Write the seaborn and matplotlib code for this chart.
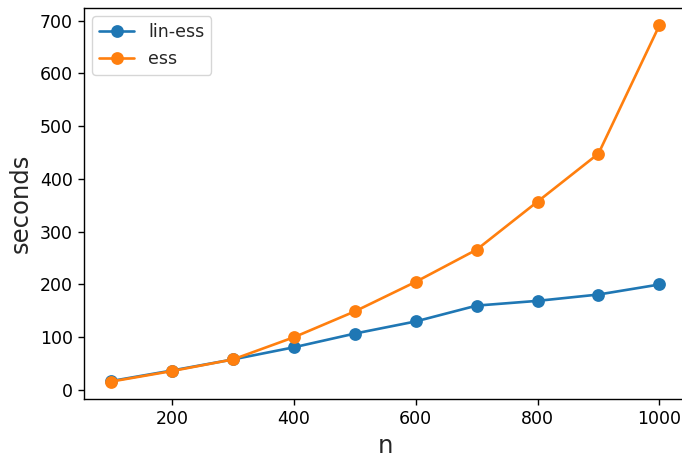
import matplotlib
matplotlib.use("Agg")
import matplotlib.pyplot as plt
import seaborn as sns
import pandas as pd

n_values = [100, 200, 300, 400, 500, 600, 700, 800, 900, 1000]
lin_ess = [17, 37, 58, 81, 107, 130, 160, 169, 181, 200]
ess = [16, 36, 58, 100, 149, 205, 266, 357, 448, 691]
series_names = ["lin-ess", "ess"]
colors = ["#1f77b4", "#ff7f0e"]

sns.set_style("ticks")
plt.rcParams["font.family"] = ["DejaVu Sans"]
plt.rcParams["axes.linewidth"] = 1.0
plt.rcParams["xtick.major.width"] = 1.0
plt.rcParams["ytick.major.width"] = 1.0
plt.rcParams["xtick.major.size"] = 4.4
plt.rcParams["ytick.major.size"] = 4.4
plt.rcParams["axes.edgecolor"] = "black"
plt.rcParams["xtick.color"] = "black"
plt.rcParams["ytick.color"] = "black"

df = pd.DataFrame({"n": n_values, "lin-ess": lin_ess, "ess": ess})

fig = plt.figure(figsize=(6.82, 4.59), dpi=100)
ax = fig.add_axes([83.7 / 682, 1 - 399.4 / 459, (688.0 - 83.7) / 682, (399.4 - 7.6) / 459])

for name, c in zip(series_names, colors):
    sns.lineplot(data=df, x="n", y=name, ax=ax, color=c, marker="o", label=name,
                 linewidth=1.9, markersize=8, markeredgecolor=c, markeredgewidth=1.2)

ax.set_xlabel("n", fontsize=17.5)
ax.set_ylabel("seconds", fontsize=17.5, labelpad=5)
ax.tick_params(labelsize=12.5)
ax.set_xticks([200, 400, 600, 800, 1000])
ax.set_yticks([0, 100, 200, 300, 400, 500, 600, 700])
ax.set_xlim(55, 1047)
ax.margins(y=0.05)
leg = ax.legend(loc="upper left", fontsize=12.5, frameon=True)
leg.get_frame().set_edgecolor("#cccccc")

fig.savefig("out.png", dpi=100)
